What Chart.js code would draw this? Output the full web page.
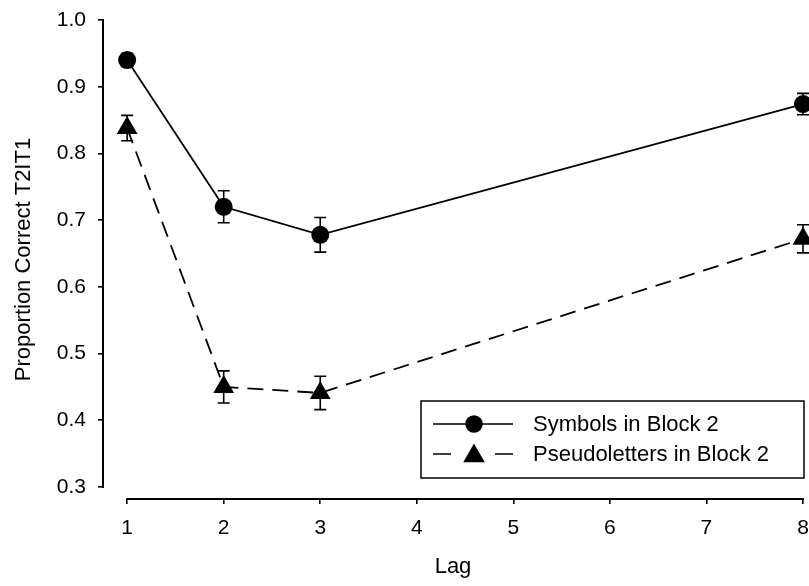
<!DOCTYPE html>
<html>
<head>
<meta charset="utf-8">
<script src="https://cdn.jsdelivr.net/npm/chart.js@4/dist/chart.umd.min.js"></script>
<style>
html,body{margin:0;padding:0;background:#fff;}
canvas{display:block;}
</style>
</head>
<body>
<canvas id="c" width="809" height="586"></canvas>
<script>
// ---- data ----
const lags = [1, 2, 3, 8];
const xTickValues = [1, 2, 3, 4, 5, 6, 7, 8];
const yTickValues = [0.3, 0.4, 0.5, 0.6, 0.7, 0.8, 0.9, 1.0];
const seriesNames = ['Symbols in Block 2', 'Pseudoletters in Block 2'];
const symbolsMean = [0.940, 0.720, 0.678, 0.874];
const symbolsErr  = [0.010, 0.024, 0.026, 0.016];
const pseudoMean  = [0.838, 0.450, 0.441, 0.672];
const pseudoErr   = [0.019, 0.024, 0.025, 0.021];
const xTitle = 'Lag';
const yTitle = 'Proportion Correct T2IT1';

const FONT = '"Liberation Sans", Arial, sans-serif';
const errors = [symbolsErr, pseudoErr];

const errorBars = {
  id: 'errorBars',
  beforeDatasetsDraw(chart) {
    const {ctx, scales: {x, y}} = chart;
    ctx.save();
    ctx.strokeStyle = '#000';
    ctx.lineWidth = 1.6;
    chart.data.datasets.forEach((ds, di) => {
      const err = errors[di];
      ds.data.forEach((p, i) => {
        const px = x.getPixelForValue(p.x);
        const yt = y.getPixelForValue(p.y + err[i]);
        const yb = y.getPixelForValue(p.y - err[i]);
        ctx.beginPath();
        ctx.moveTo(px, yt); ctx.lineTo(px, yb);
        ctx.moveTo(px - 6, yt); ctx.lineTo(px + 6, yt);
        ctx.moveTo(px - 6, yb); ctx.lineTo(px + 6, yb);
        ctx.stroke();
      });
    });
    ctx.restore();
  }
};

const axisLines = {
  id: 'axisLines',
  beforeDatasetsDraw(chart) {
    const {ctx, chartArea, scales: {x, y}} = chart;
    ctx.save();
    ctx.strokeStyle = '#000';
    ctx.lineWidth = 2;
    ctx.beginPath();
    ctx.moveTo(chartArea.left, y.getPixelForValue(yTickValues[yTickValues.length - 1]) - 1);
    ctx.lineTo(chartArea.left, y.getPixelForValue(yTickValues[0]) + 1);
    ctx.moveTo(x.getPixelForValue(xTickValues[0]) - 1, chartArea.bottom);
    ctx.lineTo(x.getPixelForValue(xTickValues[xTickValues.length - 1]) + 1, chartArea.bottom);
    ctx.stroke();
    ctx.restore();
  }
};

const boxLegend = {
  id: 'boxLegend',
  afterDraw(chart) {
    const {ctx, chartArea} = chart;
    const right = chartArea.right + 1, bottom = chartArea.bottom - 21;
    const left = 421, top = bottom - 77;
    ctx.save();
    ctx.strokeStyle = '#000';
    ctx.lineWidth = 1.5;
    ctx.strokeRect(left, top, right - left, bottom - top);
    chart.data.datasets.forEach((ds, i) => {
      const cy = top + 23 + i * 30;
      const x0 = left + 12, x1 = left + 92, xm = left + 53;
      ctx.beginPath();
      ctx.lineWidth = 1.5;
      if (ds.borderDash && ds.borderDash.length) {
        ctx.moveTo(x0, cy); ctx.lineTo(x0 + 18, cy);
        ctx.moveTo(x1 - 18, cy); ctx.lineTo(x1, cy);
      } else {
        ctx.moveTo(x0, cy); ctx.lineTo(x1, cy);
      }
      ctx.stroke();
      Chart.helpers.drawPoint(ctx, {pointStyle: ds.pointStyle, radius: ds.pointRadius - 1, borderWidth: 1}, xm, cy + (ds.pointStyle === 'triangle' ? 2 : 0));
      ctx.fillStyle = '#000';
      ctx.fill();
      ctx.font = '22px ' + FONT;
      ctx.textBaseline = 'middle';
      ctx.textAlign = 'left';
      ctx.fillText(seriesNames[i], left + 112, cy + 1);
    });
    ctx.restore();
  }
};

new Chart(document.getElementById('c'), {
  type: 'scatter',
  data: {
    datasets: [
      {
        label: seriesNames[0],
        data: lags.map((l, i) => ({x: l, y: symbolsMean[i]})),
        showLine: true,
        borderColor: '#000',
        backgroundColor: '#000',
        borderWidth: 1.8,
        pointStyle: 'circle',
        pointRadius: 9,
        pointBorderWidth: 0
      },
      {
        label: seriesNames[1],
        data: lags.map((l, i) => ({x: l, y: pseudoMean[i]})),
        showLine: true,
        borderColor: '#000',
        backgroundColor: '#000',
        borderWidth: 1.8,
        borderDash: [16, 9],
        pointStyle: 'triangle',
        pointRadius: 12,
        pointBorderWidth: 0
      }
    ]
  },
  options: {
    responsive: false,
    animation: false,
    devicePixelRatio: 1,
    clip: false,
    layout: {autoPadding: false, padding: {top: 20, right: 6, left: 0, bottom: 0}},
    plugins: {legend: {display: false}, tooltip: {enabled: false}},
    scales: {
      x: {
        type: 'linear',
        min: 0.75,
        max: 8,
        afterFit(s) { s.height = 87; s.paddingLeft = 0; s.paddingRight = 0; },
        afterBuildTicks(s) { s.ticks = xTickValues.map(v => ({value: v})); },
        border: {display: false},
        grid: {display: true, drawOnChartArea: false, drawTicks: true, tickLength: 5, color: '#000', lineWidth: 1.6},
        ticks: {color: '#000', font: {family: FONT, size: 21}, padding: 12, maxRotation: 0,
                callback: v => String(v)},
        title: {display: true, text: xTitle, color: '#000', font: {family: FONT, size: 22}, padding: {top: 0, bottom: 6}}
      },
      y: {
        type: 'linear',
        min: 0.282,
        max: 1.0,
        afterFit(s) { s.width = 103; s.paddingTop = 0; s.paddingBottom = 0; },
        afterBuildTicks(s) { s.ticks = yTickValues.map(v => ({value: v})); },
        border: {display: false},
        grid: {display: true, drawOnChartArea: false, drawTicks: true, tickLength: 5, color: '#000', lineWidth: 1.6},
        ticks: {color: '#000', font: {family: FONT, size: 21}, padding: 12,
                callback: v => Number(v).toFixed(1)},
        title: {display: true, text: yTitle, color: '#000', font: {family: FONT, size: 22}, padding: {top: 11, bottom: 0}}
      }
    }
  },
  plugins: [errorBars, axisLines, boxLegend]
});
</script>
</body>
</html>
